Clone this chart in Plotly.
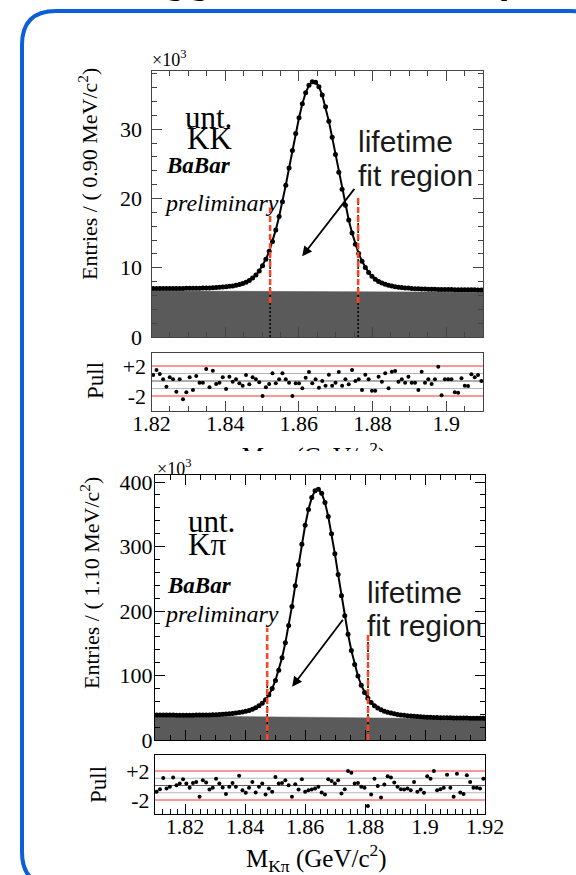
import plotly.graph_objects as go

W, H = 576, 875

# ---------------- D0 -> K K  (untagged), bins of 0.90 MeV ----------------
kk_mass_lo = 1.82
kk_bin_width = 0.0009
kk_counts = [  # entries x 10^3
    7.00, 7.00, 7.00, 7.00, 7.00, 7.00, 7.00, 7.01, 7.01, 7.01,
    7.02, 7.02, 7.02, 7.03, 7.04, 7.06, 7.07, 7.09, 7.11, 7.14,
    7.17, 7.21, 7.26, 7.31, 7.38, 7.47, 7.58, 7.73, 7.91, 8.17,
    8.51, 8.95, 9.53, 10.27, 11.21, 12.37, 13.79, 15.46, 17.38, 19.54,
    21.90, 24.39, 26.91, 29.37, 31.66, 33.66, 35.25, 36.34, 36.86, 36.79,
    36.13, 34.92, 33.23, 31.15, 28.82, 26.33, 23.80, 21.33, 19.01, 16.89,
    15.01, 13.40, 12.04, 10.92, 10.02, 9.32, 8.77, 8.35, 8.03, 7.78,
    7.60, 7.46, 7.36, 7.26, 7.19, 7.14, 7.09, 7.06, 7.01, 6.98,
    6.96, 6.94, 6.92, 6.90, 6.89, 6.88, 6.87, 6.86, 6.85, 6.84,
    6.84, 6.83, 6.83, 6.82, 6.82, 6.81, 6.81, 6.81, 6.80, 6.80]
kk_pull = [
    0.8, 1.47, 0.93, 0.22, -0.76, 0.49, 0.22, -1.42, 0.22, -2.44,
    -1.51, 0.49, -1.2, 0.67, -0.22, -0.22, 1.6, -0.84, 1.38, -0.4,
    -0.22, 0.49, -1.07, 0.58, -0.09, 0.22, -0.31, -0.62, 0.8, -0.44,
    0.49, 0.22, -0.18, -2.0, -0.84, -0.4, 1.02, -0.31, 0.22, 1.02,
    0.22, -0.22, -2.0, -0.31, -0.31, -0.98, 0.44, 1.2, -0.31, 0.22,
    -0.89, 0.0, -0.62, 0.84, -0.62, -0.22, 1.2, -0.62, 0.22, -0.44,
    1.47, 0.0, 0.22, -1.2, 0.84, 0.22, -1.29, -1.29, 0.58, -0.09,
    1.02, -0.98, 1.24, 1.33, -0.09, 0.22, -0.22, 0.58, -0.22, -0.22,
    -1.2, 1.24, -0.22, 0.22, -0.4, 0.22, 1.91, -1.91, 0.22, 0.22,
    0.22, -1.51, -1.56, 0.36, -0.62, -0.67, 0.89, 0.49, 0.8, 0.0]
kk_bkg_mass = [1.82, 1.91]
kk_bkg_level = [6.65, 6.45]
kk_cut_mass = [1.8522, 1.8761]
kk_cut_red_from = [4.9, 4.9]
kk_cut_red_to = [18.7, 20.4]
kk_cut_dot_to = [12.0, 19.5]
kk_arrow_tail = [1.8754, 21.6]
kk_arrow_head = [1.8609, 11.65]
kk_x_range = [1.82, 1.91]
kk_y_range = [0, 38.4]
kk_pull_range = [-4.0, 3.73]
kk_x_ticks = [1.82, 1.84, 1.86, 1.88, 1.90]
kk_x_labels = ["1.82", "1.84", "1.86", "1.88", "1.9"]
kk_y_ticks = [0, 10, 20, 30]

# ---------------- D0 -> K pi (untagged), bins of 1.10 MeV ----------------
kpi_mass_lo = 1.81
kpi_bin_width = 0.0011
kpi_counts = [  # entries x 10^3
    38.79, 38.74, 38.70, 38.66, 38.62, 38.59, 38.56, 38.53, 38.52, 38.51,
    38.52, 38.54, 38.58, 38.63, 38.71, 38.82, 38.96, 39.13, 39.33, 39.60,
    39.91, 40.28, 40.72, 41.23, 41.84, 42.56, 43.44, 44.51, 45.85, 47.59,
    49.88, 52.94, 57.06, 62.59, 70.01, 79.73, 92.28, 108.16, 127.56, 150.71,
    177.49, 207.24, 239.29, 271.93, 303.78, 333.03, 357.58, 375.93, 386.67, 389.02,
    382.77, 368.32, 346.77, 319.71, 288.96, 256.51, 223.86, 192.61, 164.05, 138.70,
    117.15, 99.20, 84.75, 73.49, 64.74, 58.19, 53.24, 49.59, 46.73, 44.65,
    43.00, 41.69, 40.60, 39.68, 38.91, 38.25, 37.68, 37.16, 36.72, 36.33,
    35.99, 35.70, 35.44, 35.20, 35.01, 34.84, 34.69, 34.56, 34.43, 34.33,
    34.24, 34.15, 34.07, 34.00, 33.93, 33.87, 33.81, 33.75, 33.69, 33.63]
kpi_pull = [
    -0.86, -0.5, 1.05, -0.41, -0.18, 1.09, 0.05, 0.27, 0.86, 0.27,
    -0.32, 0.36, 0.5, -1.55, 0.73, 0.41, -0.55, -0.32, 0.95, 0.27,
    -0.27, -1.18, -0.18, 0.36, -0.18, 1.36, -0.64, -1.0, -0.32, 0.5,
    -0.95, -0.18, 0.27, -1.23, -0.41, -0.86, 1.18, 0.27, 0.36, 0.73,
    0.05, -1.55, 0.18, -0.55, 0.86, -0.86, -0.64, -0.55, -0.41, -0.18,
    -0.95, -1.23, 0.86, 0.64, 0.27, 0.73, -1.09, -0.5, 2.0, 1.77,
    0.27, 0.36, -0.18, -0.32, -2.82, -1.23, 0.95, -0.05, -1.64, 0.14,
    1.27, 1.09, 0.41, -0.18, -0.5, -0.55, -0.41, -0.64, 0.5, -0.86,
    -0.55, -1.0, 1.27, 0.95, 2.0, -0.64, -0.5, -0.32, 1.5, -0.32,
    -1.55, 1.64, -0.95, -1.18, 1.41, 0.5, -0.32, -0.32, -0.41, 0.95]
kpi_bkg_mass = [1.81, 1.92]
kpi_bkg_level = [37.7, 32.5]
kpi_cut_mass = [1.8474, 1.8810]
kpi_cut_red_from = [0.0, 0.0]
kpi_cut_red_to = [174.0, 166.0]
kpi_cut_dot_to = [93.0, 163.0]
kpi_arrow_tail = [1.8730, 188.7]
kpi_arrow_head = [1.8557, 82.6]
kpi_x_range = [1.81, 1.92]
kpi_y_range = [0, 411]
kpi_pull_range = [-3.93, 4.21]
kpi_x_ticks = [1.82, 1.84, 1.86, 1.88, 1.90, 1.92]
kpi_x_labels = ["1.82", "1.84", "1.86", "1.88", "1.9", "1.92"]
kpi_y_ticks = [0, 100, 200, 300, 400]

pull_ticks = [-2, 2]
pull_labels = ["-2", "+2"]
pull_red_levels = [-2, 2]
pull_grey_levels = [-1, 1]
pull_zero_levels = [0]

kk_mass = [kk_mass_lo + kk_bin_width * (i + 0.5) for i in range(len(kk_counts))]
kpi_mass = [kpi_mass_lo + kpi_bin_width * (i + 0.5) for i in range(len(kpi_counts))]

SERIF = "Liberation Serif"
SANS = "Liberation Sans"
BKG = "#5a5a5a"
RED = "#ff4422"


def px(x):
    return x / W


def py(y):
    return 1 - y / H


fig = go.Figure()


def add_panel(xa, ya, mass, counts, bkg_x, bkg_y, cuts, red_from, red_to, dot_to):
    fig.add_trace(go.Scatter(x=bkg_x, y=bkg_y, xaxis=xa, yaxis=ya, mode="lines",
                             fill="tozeroy", fillcolor=BKG,
                             line=dict(color=BKG, width=0.5), hoverinfo="skip"))
    for c, d in zip(cuts, dot_to):
        fig.add_trace(go.Scatter(x=[c, c], y=[0, d], xaxis=xa, yaxis=ya, mode="lines",
                                 line=dict(color="black", width=1.5, dash="2px,2px"),
                                 hoverinfo="skip"))
    fig.add_trace(go.Scatter(x=mass, y=counts, xaxis=xa, yaxis=ya, mode="lines+markers",
                             line=dict(color="black", width=2),
                             marker=dict(size=5, color="black")))
    for c, lo, hi in zip(cuts, red_from, red_to):
        fig.add_trace(go.Scatter(x=[c, c], y=[lo, hi], xaxis=xa, yaxis=ya, mode="lines",
                                 line=dict(color=RED, width=2.5, dash="6px,3px"),
                                 hoverinfo="skip"))


def add_pull(xa, ya, mass, pull):
    fig.add_trace(go.Scatter(x=mass, y=pull, xaxis=xa, yaxis=ya, mode="markers",
                             marker=dict(size=4, color="black")))


add_panel("x", "y", kk_mass, kk_counts, kk_bkg_mass, kk_bkg_level, kk_cut_mass,
          kk_cut_red_from, kk_cut_red_to, kk_cut_dot_to)
add_pull("x2", "y2", kk_mass, kk_pull)
add_panel("x3", "y3", kpi_mass, kpi_counts, kpi_bkg_mass, kpi_bkg_level, kpi_cut_mass,
          kpi_cut_red_from, kpi_cut_red_to, kpi_cut_dot_to)
add_pull("x4", "y4", kpi_mass, kpi_pull)

# x-axis title of the upper panel, mostly hidden behind the lower panel (clipped)
fig.add_trace(go.Scatter(x=[314], y=[-7.5], xaxis="x5", yaxis="y5", mode="text",
                         text=["M<sub>KK</sub> (GeV/c<sup>2</sup>)"],
                         textfont=dict(family=SERIF, size=25, color="black"),
                         textposition="middle center", cliponaxis=True, hoverinfo="skip"))

tickfont = dict(family=SERIF, size=22, color="black")


def main_x(domain, rng, minor_d, color, anchor):
    return dict(domain=domain, range=rng, anchor=anchor, showline=True, linecolor=color,
                linewidth=1, mirror="ticks", ticks="inside", ticklen=10, tickwidth=1,
                tickcolor=color, tickmode="linear", tick0=1.80, dtick=0.02,
                showticklabels=False, showgrid=False, zeroline=False, fixedrange=True,
                automargin=False,
                minor=dict(ticks="inside", ticklen=5, tickwidth=1, tickcolor=color,
                           tickmode="linear", tick0=1.80, dtick=minor_d, showgrid=False))


def main_y(domain, rng, ticks, minor_d, color, anchor, standoff):
    return dict(domain=domain, range=rng, anchor=anchor, showline=True, linecolor=color,
                linewidth=1, mirror="ticks", ticks="inside", ticklen=10, tickwidth=1,
                tickcolor=color, tickmode="array", tickvals=ticks,
                ticktext=[str(t) for t in ticks], tickfont=tickfont,
                ticklabelstandoff=standoff,
                showgrid=False, zeroline=False, fixedrange=True, automargin=False,
                minor=dict(ticks="inside", ticklen=5, tickwidth=1, tickcolor=color,
                           tickmode="linear", tick0=0, dtick=minor_d, showgrid=False))


def pull_x(domain, rng, tickv, tickl, minor_d, color, anchor):
    return dict(domain=domain, range=rng, anchor=anchor, showline=True, linecolor=color,
                linewidth=1, mirror=True, ticks="inside", ticklen=10, tickwidth=1,
                tickcolor=color, tickmode="array", tickvals=tickv, ticktext=tickl,
                tickfont=tickfont, ticklabelstandoff=-7,
                showgrid=False, zeroline=False, fixedrange=True,
                automargin=False,
                minor=dict(ticks="inside", ticklen=5, tickwidth=1, tickcolor=color,
                           tickmode="linear", tick0=1.80, dtick=minor_d, showgrid=False))


def pull_y(domain, rng, color, anchor):
    return dict(domain=domain, range=rng, anchor=anchor, showline=True, linecolor=color,
                linewidth=1, mirror=True, ticks="", tickmode="array",
                tickvals=pull_ticks, ticktext=pull_labels, tickfont=tickfont,
                showgrid=False, zeroline=False, fixedrange=True, automargin=False)


TOPC = "#444444"
BOTC = "#000000"
top_x_dom = [px(151.5), px(483)]
bot_x_dom = [px(155), px(485)]

fig.update_layout(
    template="none",
    width=W, height=H, margin=dict(l=0, r=0, t=0, b=0, pad=0, autoexpand=False),
    paper_bgcolor="white", plot_bgcolor="white", showlegend=False,
    xaxis=main_x(top_x_dom, kk_x_range, 0.005, TOPC, "y"),
    yaxis=main_y([py(337), py(71)], kk_y_range, kk_y_ticks, 2, TOPC, "x", 4),
    xaxis2=pull_x(top_x_dom, kk_x_range, kk_x_ticks, kk_x_labels, 0.005, TOPC, "y2"),
    yaxis2=pull_y([py(411), py(353)], kk_pull_range, TOPC, "x2"),
    xaxis3=main_x(bot_x_dom, kpi_x_range, 0.005, BOTC, "y3"),
    yaxis3=main_y([py(740), py(475)], kpi_y_range, kpi_y_ticks, 20, BOTC, "x3", -3),
    xaxis4=pull_x(bot_x_dom, kpi_x_range, kpi_x_ticks, kpi_x_labels, 0.0025, BOTC, "y4"),
    yaxis4=pull_y([py(814), py(755)], kpi_pull_range, BOTC, "x4"),
    xaxis5=dict(domain=[0, 1], range=[0, W], visible=False, anchor="y5", fixedrange=True,
                automargin=False),
    yaxis5=dict(domain=[py(451), py(440)], range=[0, 11], visible=False, anchor="x5",
                fixedrange=True, automargin=False),
)

shapes = []
for xa, ya in (("x2", "y2"), ("x4", "y4")):
    for lv in pull_grey_levels:
        shapes.append(dict(type="line", xref=xa + " domain", yref=ya, x0=0, x1=1, y0=lv, y1=lv,
                           line=dict(color="#b5b5b5", width=1.2), layer="below"))
    for lv in pull_zero_levels:
        shapes.append(dict(type="line", xref=xa + " domain", yref=ya, x0=0, x1=1, y0=lv, y1=lv,
                           line=dict(color="#606060", width=1.2), layer="below"))
    for lv in pull_red_levels:
        shapes.append(dict(type="line", xref=xa + " domain", yref=ya, x0=0, x1=1, y0=lv, y1=lv,
                           line=dict(color="#ff3030", width=1.2), layer="below"))

# blue rounded slide frame
L, T, R, B, r = 22, 11, 604, 886, 34


def P(x, y):
    return f"{px(x):.5f},{py(y):.5f}"


frame_path = (f"M {P(L + r, B)} Q {P(L, B)} {P(L, B - r)} L {P(L, T + r)} "
              f"Q {P(L, T)} {P(L + r, T)} L {P(R - r, T)} Q {P(R, T)} {P(R, T + r)} "
              f"L {P(R, B + 20)}")
shapes.append(dict(type="path", xref="paper", yref="paper", path=frame_path,
                   line=dict(color="#0b5fd9", width=4)))
fig.update_layout(shapes=shapes)

anns = []


def text(t, x, y, size, family=SERIF, xanchor="left", angle=0, color="black"):
    anns.append(dict(text=t, x=px(x), y=py(y), xref="paper", yref="paper",
                     xanchor=xanchor, yanchor="middle", showarrow=False, textangle=angle,
                     font=dict(family=family, size=size, color=color)))


# slide title (cut by the top of the page)
text("<b>Untagged D<sup>0</sup> data samples</b>", 72, -23.5, 40, family=SANS)

# upper panel
text("×10<sup>3</sup>", 150, 59, 18)
text("unt.", 183, 117.5, 31)
text("KK", 184.5, 139, 31)
text("<b><i>BaBar</i></b>", 164, 165, 23)
text("<i>preliminary</i>", 162, 202.5, 24)
text("lifetime", 355.5, 141.2, 30, family=SANS, color="#1a1a1a")
text("fit region", 355.5, 175.2, 30, family=SANS, color="#1a1a1a")
text("Entries / ( 0.90 MeV/c<sup>2</sup>)", 88, 174, 22, xanchor="center", angle=-90)
text("Pull", 95, 381, 23, xanchor="center", angle=-90)

# lower panel
text("×10<sup>3</sup>", 155, 467, 18)
text("unt.", 186, 521.5, 31)
text("Kπ", 186, 544, 31)
text("<b><i>BaBar</i></b>", 165, 585, 23)
text("<i>preliminary</i>", 162, 613.5, 24)
text("lifetime", 364.5, 592.8, 30, family=SANS, color="#1a1a1a")
text("fit region", 364.5, 625.5, 30, family=SANS, color="#1a1a1a")
text("Entries / ( 1.10 MeV/c<sup>2</sup>)", 90, 583, 22, xanchor="center", angle=-90)
text("Pull", 98, 785, 23, xanchor="center", angle=-90)
text("M<sub>Kπ</sub> (GeV/c<sup>2</sup>)", 316, 858, 25, xanchor="center")

# arrows pointing into the lifetime fit region
for (xa, ya), tail, head in ((("x", "y"), kk_arrow_tail, kk_arrow_head),
                             (("x3", "y3"), kpi_arrow_tail, kpi_arrow_head)):
    anns.append(dict(x=head[0], y=head[1], xref=xa, yref=ya, ax=tail[0], ay=tail[1],
                     axref=xa, ayref=ya, text="", showarrow=True, arrowhead=2,
                     arrowsize=1.1, arrowwidth=1.8, arrowcolor="black"))

fig.update_layout(annotations=anns)

fig.write_html("out.html", config={"displayModeBar": False})
